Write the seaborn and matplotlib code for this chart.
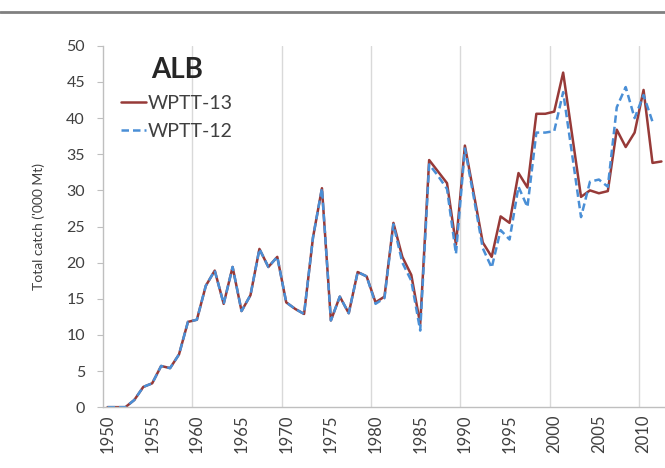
import numpy as np
import pandas as pd
import seaborn as sns
import matplotlib
matplotlib.use("Agg")
import matplotlib.pyplot as plt
from matplotlib.lines import Line2D

# data ('000 Mt)
years = list(range(1950, 2013))
wptt13 = [0, 0, 0, 1.0, 2.8, 3.3, 5.7, 5.4, 7.3, 11.8,
          12.1, 16.8, 18.9, 14.3, 19.4, 13.3, 15.5, 21.9, 19.4, 20.8,
          14.5, 13.6, 12.9, 23.5, 30.3, 12.0, 15.3, 13.0, 18.7, 18.1,
          14.5, 15.3, 25.5, 20.8, 18.3, 11.5, 34.2, 32.6, 31.0, 22.5,
          36.2, 29.5, 22.8, 20.8, 26.4, 25.5, 32.4, 30.4, 40.6, 40.6,
          40.9, 46.3, 37.7, 29.1, 30.0, 29.6, 29.9, 38.4, 36.0, 38.0,
          43.9, 33.8, 34.0]
wptt12 = [0, 0, 0, 1.0, 2.8, 3.3, 5.7, 5.4, 7.3, 11.8,
          12.1, 16.8, 18.9, 14.3, 19.4, 13.3, 15.5, 21.9, 19.4, 20.8,
          14.5, 13.6, 12.9, 23.5, 30.3, 12.0, 15.3, 13.0, 18.7, 18.1,
          14.3, 15.1, 25.3, 20.0, 17.5, 10.6, 33.6, 32.0, 30.2, 21.2,
          35.8, 29.0, 22.0, 19.3, 24.5, 23.2, 30.5, 27.7, 38.0, 38.0,
          38.2, 43.6, 35.0, 26.3, 31.2, 31.5, 30.5, 41.5, 44.3, 40.0,
          43.2, 39.5, np.nan]
series = ["WPTT-13", "WPTT-12"]

df = pd.concat([
    pd.DataFrame({"year": years, "catch": wptt13, "series": series[0]}),
    pd.DataFrame({"year": years, "catch": wptt12, "series": series[1]}),
], ignore_index=True)

sns.set_style("white")
plt.rcParams["font.family"] = ["Lato", "DejaVu Sans"]
txt = "#404040"

fig = plt.figure(figsize=(6.65, 4.68), dpi=100)
ax = fig.add_axes([0.155, 0.13, 0.845, 0.772])

sns.lineplot(data=df, x="year", y="catch", hue="series", style="series",
             hue_order=series, style_order=series,
             palette={"WPTT-13": "#973a38", "WPTT-12": "#4a8fd6"},
             dashes={"WPTT-13": "", "WPTT-12": (3, 1.6)},
             linewidth=1.8, ax=ax)

ax.set_xlim(1949.5, 2012.4)
ax.set_ylim(0, 50)
ax.set_yticks(range(0, 51, 5))
ax.set_xticks(range(1950, 2011, 5))
ax.set_xticks(np.arange(1959.5, 2010, 10), minor=True)
ax.grid(which="minor", axis="x", color="#d9d9d9", linewidth=1)
ax.grid(which="major", visible=False)
ax.tick_params(axis="x", which="major", rotation=90, labelsize=12,
               colors=txt, length=0, pad=5)
ax.tick_params(axis="x", which="minor", length=0)
ax.tick_params(axis="y", labelsize=11.5, colors=txt, length=4,
               color="#bfbfbf", pad=9, left=True)
for s in ["top", "right"]:
    ax.spines[s].set_visible(False)
for s in ["left", "bottom"]:
    ax.spines[s].set_color("#bfbfbf")
    ax.spines[s].set_linewidth(1)

ax.set_xlabel("")
ax.set_ylabel("Total catch ('000 Mt)", fontsize=10, color=txt, labelpad=15)

leg = ax.legend(title="ALB", loc="upper left", bbox_to_anchor=(0.0, 1.018),
                frameon=False, fontsize=14, handlelength=1.3,
                handletextpad=0.1, labelspacing=0.6)
leg.get_title().set_fontsize(20)
leg.get_title().set_fontweight("bold")
for t in leg.get_texts():
    t.set_color(txt)

fig.add_artist(Line2D([0, 1], [0.975, 0.975], transform=fig.transFigure,
                      color="#808080", linewidth=2))

fig.savefig("out.png", dpi=100)
